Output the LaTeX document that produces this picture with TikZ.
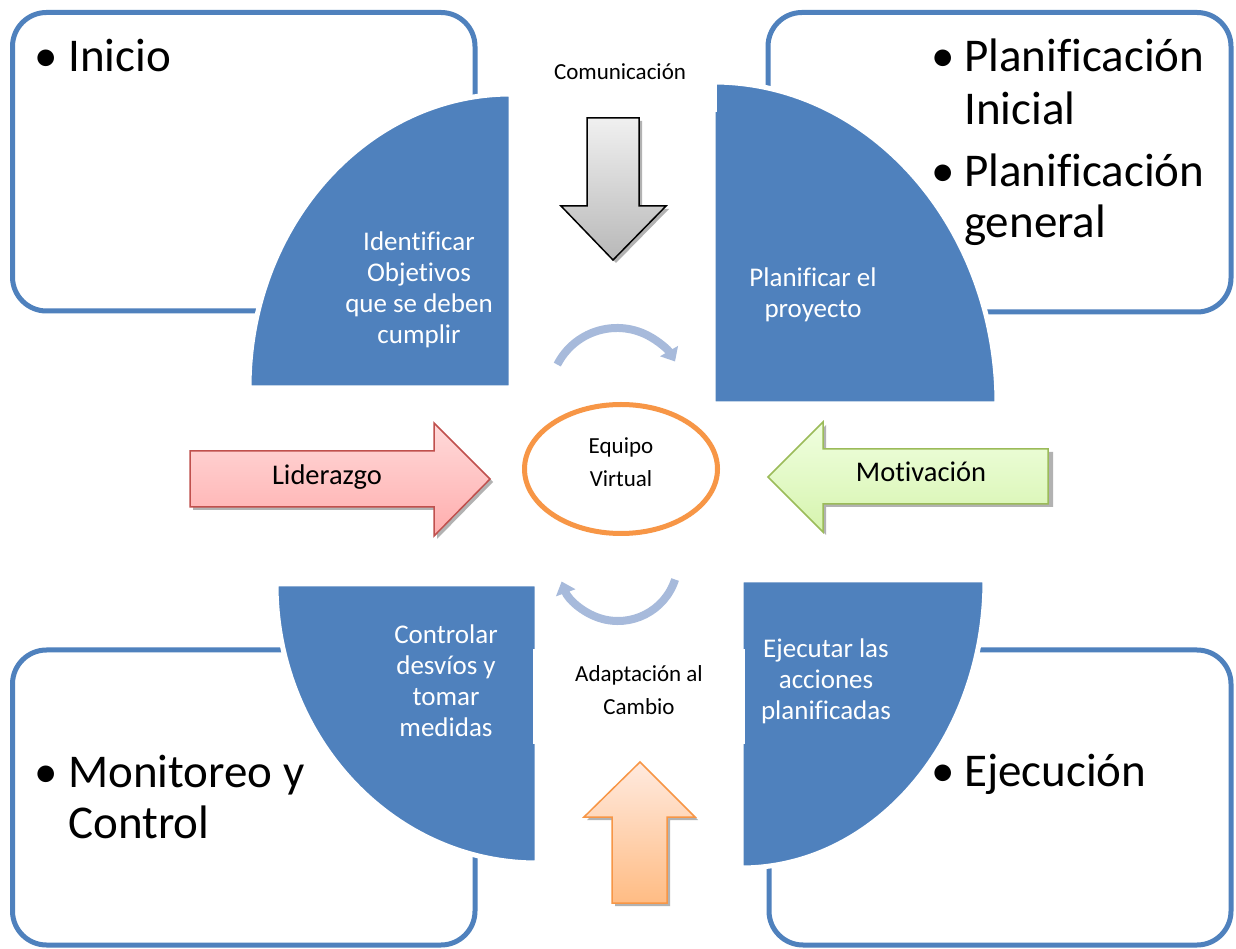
\documentclass[tikz,border=0pt]{standalone}
\usepackage{fontspec}
\setmainfont{Carlito}[Ligatures=NoCommon]
\usetikzlibrary{shapes.geometric,arrows.meta,calc}
\definecolor{qblue}{HTML}{4F81BD}
\definecolor{lblue}{RGB}{167,186,219}
\definecolor{orng}{HTML}{F79646}
\definecolor{dred}{HTML}{C0504D}
\definecolor{lgreen}{HTML}{9BBB59}
\definecolor{lidtop}{HTML}{FFDADA}
\definecolor{lidbot}{HTML}{FFADAD}
\definecolor{mottop}{HTML}{F0FFE0}
\definecolor{motbot}{HTML}{D6F4AE}
\definecolor{comtop}{HTML}{F0F0F0}
\definecolor{combot}{HTML}{B8B8B8}
\definecolor{adatop}{HTML}{FFEADF}
\definecolor{adabot}{HTML}{FFBC84}
\tikzset{
 phasebox/.style={draw=qblue, line width=5pt, rounded corners=34pt},
 quarter/.style={fill=qblue, draw=white, line width=5pt},
 bigtxt/.style={font=\fontsize{47}{53}\selectfont, inner sep=0pt, anchor=base west},
 qtxt/.style={text=white, font=\fontsize{27}{31}\selectfont, align=center, inner sep=0pt},
 smalltxt/.style={font=\fontsize{23}{33}\selectfont, align=center, inner sep=0pt},
 midtxt/.style={font=\fontsize{28.5}{34}\selectfont, inner sep=0pt},
 cyclearrow/.style={draw=lblue, line width=8pt, -{Triangle[length=12pt,width=20pt]}},
 shadowshape/.style={fill=black!30, draw=none},
 whitebg/.style={fill=white, draw=none, inner sep=0pt},
}
\begin{document}
\begin{tikzpicture}[x=1pt,y=1pt]
\useasboundingbox (0,0) rectangle (1236,948);
\fill[white] (0,0) rectangle (1236,948);
% phase boxes
\draw[phasebox] (12.5,948-12.5) rectangle (475,948-311);
\draw[phasebox] (768,948-12.5) rectangle (1231,948-312);
\draw[phasebox] (12.5,948-650) rectangle (475,948-945);
\draw[phasebox] (769,948-650) rectangle (1231,948-945);
% quarters
\path[quarter] (511,560) -- ++(-262,0) arc[start angle=180,end angle=90,x radius=262,y radius=294] -- cycle;
\path[quarter] (713,544) -- ++(284,0) arc[start angle=0,end angle=90,x radius=284,y radius=322] -- cycle;
\path[quarter] (537,364) -- ++(-261,0) arc[start angle=180,end angle=270,x radius=261,y radius=279] -- cycle;
\path[quarter] (741,368) -- ++(244,0) arc[start angle=0,end angle=-90,x radius=244,y radius=288] -- cycle;
% white label areas
\node[whitebg, minimum width=192, minimum height=72] (combg) at (621,948-76) {};
\node[whitebg, minimum width=212, minimum height=95] (adabg) at (639,948-696.5) {};
% cycle arrows
\coordinate (topc) at (617,948-395);
\coordinate (botc) at (618,948-561);
\draw[cyclearrow] ([shift={(153:67)}]topc) arc[start angle=153,end angle=30,radius=67];
\draw[cyclearrow] ([shift={(-18:60)}]botc) arc[start angle=-18,end angle=-160,radius=60];
% Liderazgo arrow
\fill[shadowshape] (193,948-454) -- (437,948-454) -- (437,948-426) -- (493,948-482) -- (437,948-539) -- (437,948-510) -- (193,948-510) -- cycle;
\path[draw=dred, line width=1.5pt, top color=lidtop, bottom color=lidbot] (190,948-451) -- (434,948-451) -- (434,948-423) -- (490,948-479) -- (434,948-536) -- (434,948-507) -- (190,948-507) -- cycle;
% Motivacion arrow
\fill[shadowshape] (771,948-480) -- (826,948-425) -- (826,948-452) -- (1053,948-452) -- (1053,948-507) -- (826,948-507) -- (826,948-535) -- cycle;
\path[draw=lgreen, line width=1.5pt, top color=mottop, bottom color=motbot] (768,948-477) -- (823,948-422) -- (823,948-449) -- (1048,948-449) -- (1048,948-504) -- (823,948-504) -- (823,948-532) -- cycle;
% Comunicacion arrow
\fill[shadowshape] (590,948-121) -- (642,948-121) -- (642,948-209) -- (669,948-209) -- (616,948-263) -- (564,948-209) -- (590,948-209) -- cycle;
\path[draw=black, line width=1.5pt, top color=comtop, bottom color=combot] (587,948-118) -- (639,948-118) -- (639,948-206) -- (666,948-206) -- (613,948-260) -- (561,948-206) -- (587,948-206) -- cycle;
% Adaptacion arrow
\fill[shadowshape] (643,948-765) -- (698,948-820) -- (670,948-820) -- (670,948-906) -- (615,948-906) -- (615,948-820) -- (587,948-820) -- cycle;
\path[draw=orng, line width=1.5pt, top color=adatop, bottom color=adabot] (640,948-762) -- (695,948-817) -- (667,948-817) -- (667,948-903) -- (612,948-903) -- (612,948-817) -- (584,948-817) -- cycle;
% centre
\node[ellipse, draw=orng, line width=5pt, fill=white, minimum width=193, minimum height=129, inner sep=0pt] (ev) at (621,948-469) {};
\node[smalltxt] (evtxt) at (621,948-462.5) {Equipo\\Virtual};
% labels
\node[smalltxt] (com) at (620,948-72) {Comunicación};
\node[smalltxt] (ada) at (639,948-690) {Adaptación al\\Cambio};
\node[midtxt] (lid) at (327,948-477) {Liderazgo};
\node[midtxt] (mot) at (921,948-472) {Motivación};
% quarter texts
\node[qtxt] (q1) at (419,948-290) {Identificar\\Objetivos\\que se deben\\cumplir};
\node[qtxt] (q2) at (813,948-295) {Planificar el\\proyecto};
\node[qtxt] (q3) at (446,948-681) {Controlar\\desvíos y\\tomar\\medidas};
\node[qtxt] (q4) at (826,948-681) {Ejecutar las\\acciones\\planificadas};
% big bullet texts
\node[bigtxt] (b1) at (34,948-72) {•};
\node[bigtxt] (t1) at (68,948-72) {Inicio};
\node[bigtxt] (b2) at (931,948-72) {•};
\node[bigtxt] (t2a) at (964,948-72) {Planificación};
\node[bigtxt] (t2b) at (964,948-125) {Inicial};
\node[bigtxt] (b3) at (931,948-187) {•};
\node[bigtxt] (t3a) at (964,948-187) {Planificación};
\node[bigtxt] (t3b) at (964,948-238) {general};
\node[bigtxt] (b4) at (34,948-787) {•};
\node[bigtxt] (t4a) at (68,948-787) {Monitoreo y};
\node[bigtxt] (t4b) at (68,948-838) {Control};
\node[bigtxt] (b5) at (931,948-786) {•};
\node[bigtxt] (t5) at (964,948-786) {Ejecución};
\end{tikzpicture}
\end{document}
